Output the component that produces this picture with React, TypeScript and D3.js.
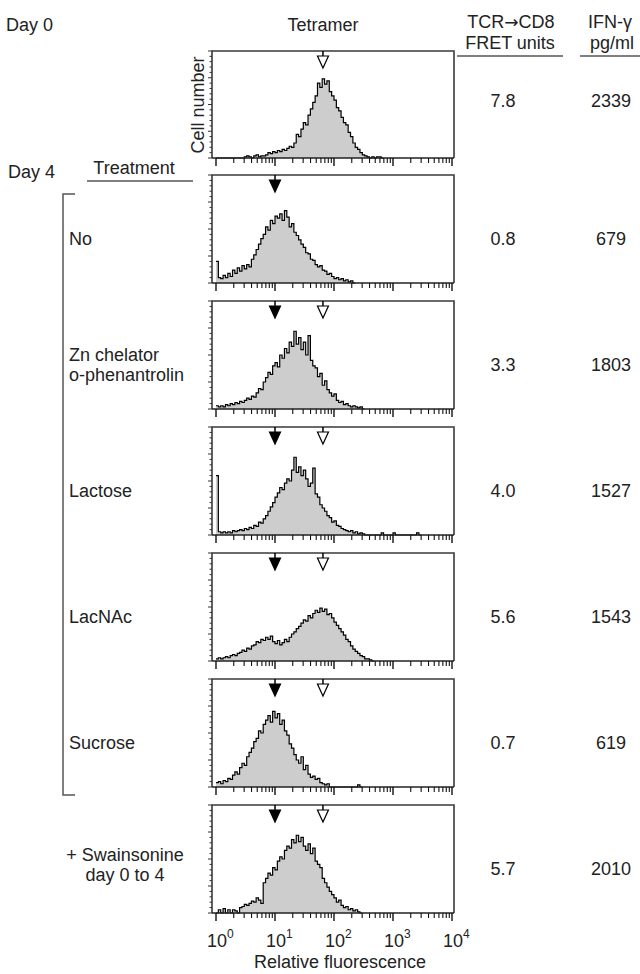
import React from "react";
import * as d3 from "d3";

// ---------- data ----------
const treatments = [
  "",
  "No",
  "Zn chelator|o-phenantrolin",
  "Lactose",
  "LacNAc",
  "Sucrose",
  "+ Swainsonine|day 0 to 4",
];
const fretValues = ["7.8", "0.8", "3.3", "4.0", "5.6", "0.7", "5.7"];
const ifnValues = ["2339", "679", "1803", "1527", "1543", "619", "2010"];
// arrow positions (fluorescence value) – null = none
const filledArrow = [null, 10, 10, 10, 10, 10, 10];
const openArrow = [65, null, 65, 65, 65, 65, 65];
const tickDecades = [1, 10, 100, 1000, 10000];
const tickExponents = ["0", "1", "2", "3", "4"];

// histograms: counts (% of panel height) in bins of 0.04 log10 units starting at 10^0
const histDay0 = [0, 0, 0, 0, 0, 0, 0, 0, 0, 0, 0, 0, 1, 2, 1, 0, 2, 3, 1, 2,
  2, 3, 5, 4, 6, 5, 7, 6, 8, 7, 9, 11, 10, 14, 22, 20, 27, 33, 31, 40,
  46, 52, 58, 70, 66, 74, 69, 72, 62, 58, 54, 47, 44, 38, 33, 31, 24, 20, 14, 10,
  8, 5, 3, 2, 1, 0, 1, 0, 1, 1, 0];
const histNo = [20, 5, 4, 7, 5, 9, 6, 12, 9, 14, 11, 16, 13, 17, 15, 22, 26, 31, 36, 41,
  45, 52, 49, 58, 55, 62, 60, 64, 58, 67, 61, 52, 55, 47, 44, 40, 36, 33, 28, 27,
  22, 21, 17, 15, 16, 12, 11, 8, 9, 6, 4, 5, 3, 4, 2, 3, 1, 2, 0];
const histZn = [3, 2, 3, 2, 4, 3, 5, 4, 6, 5, 7, 6, 8, 10, 9, 12, 11, 15, 19, 18,
  25, 29, 34, 32, 40, 43, 39, 50, 47, 56, 52, 62, 58, 72, 60, 66, 55, 62, 50, 68,
  45, 40, 38, 30, 33, 22, 26, 18, 15, 12, 14, 8, 6, 7, 4, 5, 3, 2, 3, 2,
  1, 2, 0];
const histLactose = [55, 3, 2, 3, 2, 3, 2, 4, 3, 4, 5, 4, 6, 5, 7, 6, 9, 8, 12, 11,
  15, 18, 22, 26, 30, 35, 39, 44, 42, 48, 52, 50, 60, 72, 58, 63, 55, 60, 52, 45,
  48, 62, 38, 35, 28, 25, 22, 18, 16, 12, 13, 9, 8, 6, 5, 4, 3, 4, 2, 3,
  1, 2, 1, 0, 0, 0, 0, 0, 0, 0, 2, 0, 0, 0, 0, 2, 0, 0, 0, 0,
  0, 0, 0, 0, 0, 2, 0];
const histLacNAc = [2, 3, 2, 3, 4, 3, 5, 6, 5, 7, 8, 10, 9, 12, 11, 14, 15, 18, 17, 20,
  19, 22, 20, 23, 18, 16, 19, 15, 17, 20, 18, 22, 25, 27, 30, 32, 35, 38, 37, 42,
  40, 44, 47, 45, 49, 46, 48, 43, 44, 40, 36, 33, 30, 27, 24, 20, 18, 14, 11, 9,
  7, 5, 4, 2, 2, 1, 0];
const histSucrose = [4, 5, 3, 6, 5, 8, 7, 11, 14, 12, 18, 22, 20, 28, 32, 36, 42, 45, 52, 50,
  58, 62, 66, 60, 70, 64, 68, 58, 62, 52, 48, 40, 36, 30, 25, 22, 28, 16, 20, 12,
  9, 10, 7, 8, 4, 3, 2, 3, 0, 0, 0, 0, 0, 0, 0, 0, 0, 0, 0, 0,
  2, 0];
const histSwainsonine = [0, 3, 0, 4, 0, 3, 0, 3, 2, 0, 5, 6, 8, 7, 9, 11, 10, 14, 12, 9,
  28, 32, 37, 35, 42, 40, 48, 52, 50, 58, 62, 60, 68, 65, 72, 66, 70, 62, 58, 64,
  55, 60, 48, 45, 42, 32, 28, 24, 20, 17, 14, 10, 12, 7, 5, 6, 3, 4, 2, 3,
  1, 0];
const histograms = [histDay0, histNo, histZn, histLactose, histLacNAc, histSucrose, histSwainsonine];
const BIN_LOG = 0.04;

// ---------- layout ----------
const W = 640;
const H = 974;
const FONT = "'Liberation Sans', Arial, Helvetica, sans-serif";
const boxLeft = 212;
const boxRight = 454;
const panelTop = (k: number) => (k === 0 ? 51 : 175 + 126 * (k - 1));
const panelAxis = (k: number) => (k === 0 ? 158 : panelTop(k) + 108);

const x = d3.scaleLog().domain([1, 10000]).range([216, 452]);

function Panel({ k }: { k: number }) {
  const top = panelTop(k);
  const axis = panelAxis(k);
  const y = d3.scaleLinear().domain([0, 100]).range([axis, top]);
  const vals = histograms[k];
  const pts = vals.map((v, i) => [Math.pow(10, i * BIN_LOG), v] as [number, number]);
  pts.push([Math.pow(10, vals.length * BIN_LOG), vals[vals.length - 1]]);
  const area = d3
    .area<[number, number]>()
    .x((d) => x(d[0]))
    .y0(axis)
    .y1((d) => y(d[1]))
    .curve(d3.curveStepAfter);
  const line = d3
    .line<[number, number]>()
    .x((d) => x(d[0]))
    .y((d) => y(d[1]))
    .curve(d3.curveStepAfter);

  const minor: number[] = [];
  for (let dec = 1; dec < 10000; dec *= 10) {
    for (let m = 2; m <= 9; m++) minor.push(dec * m);
  }
  const yTicks = d3.range(0, 101, 5);

  const fa = filledArrow[k];
  const oa = openArrow[k];
  const arrow = (v: number, filled: boolean) => {
    const cx = x(v);
    return (
      <g key={filled ? "f" : "o"}>
        <line x1={cx} x2={cx} y1={top} y2={top + 5} stroke="#000" strokeWidth={1.5} />
        <path
          d={`M${cx - 5.5},${top + 5} L${cx + 5.5},${top + 5} L${cx},${top + 17} Z`}
          fill={filled ? "#000" : "#fff"}
          stroke="#000"
          strokeWidth={1.2}
        />
      </g>
    );
  };

  return (
    <g>
      <path d={area(pts) || ""} fill="#cdcdcd" />
      <path d={line(pts) || ""} fill="none" stroke="#000" strokeWidth={1.2} />
      {/* frame */}
      <path
        d={`M${boxLeft},${axis} L${boxLeft},${top} L${boxRight},${top} L${boxRight},${axis}`}
        fill="none"
        stroke="#3a3a3a"
        strokeWidth={1.6}
      />
      <line x1={boxLeft} x2={boxRight} y1={axis} y2={axis} stroke="#222" strokeWidth={1.6} />
      {/* y ticks */}
      {yTicks.map((t) => (
        <line
          key={"y" + t}
          x1={boxLeft}
          x2={boxLeft - (t % 25 === 0 ? 4 : 2.5)}
          y1={y(t)}
          y2={y(t)}
          stroke="#333"
          strokeWidth={1}
        />
      ))}
      {/* x ticks */}
      {tickDecades.map((t) => (
        <line key={"M" + t} x1={x(t)} x2={x(t)} y1={axis} y2={axis + 8} stroke="#111" strokeWidth={1.4} />
      ))}
      {minor.map((t) => (
        <line key={"m" + t} x1={x(t)} x2={x(t)} y1={axis} y2={axis + 5} stroke="#111" strokeWidth={1.1} />
      ))}
      {fa !== null && arrow(fa, true)}
      {oa !== null && arrow(oa, false)}
    </g>
  );
}

export default function App() {
  return (
    <svg width={W} height={H} style={{ display: "block", position: "absolute", left: 0, top: 0, background: "#fff" }}
      fontFamily={FONT} fontSize={18} fill="#222">
      <rect x={0} y={0} width={W} height={H} fill="#fff" />
      {/* header */}
      <text x={6} y={31}>Day 0</text>
      <text x={323} y={31} textAnchor="middle">Tetramer</text>
      <text x={511} y={28} textAnchor="middle">
        TCR<tspan fontFamily="'DejaVu Sans'" fontSize={17}>→</tspan>CD8
      </text>
      <text x={510} y={49} textAnchor="middle">FRET units</text>
      <line x1={457} x2={563} y1={56} y2={56} stroke="#555" strokeWidth={1.5} />
      <text x={610} y={28} textAnchor="middle">IFN-γ</text>
      <text x={612} y={49} textAnchor="middle">pg/ml</text>
      <line x1={580} x2={640} y1={56} y2={56} stroke="#555" strokeWidth={1.5} />
      <text x={204} y={105} textAnchor="middle" transform="rotate(-90 204 105)">Cell number</text>

      <text x={8} y={178}>Day 4</text>
      <text x={134} y={174} textAnchor="middle">Treatment</text>
      <line x1={87} x2={193} y1={181} y2={181} stroke="#555" strokeWidth={1.5} />
      {/* bracket */}
      <path d="M75,194 L63,194 L63,795 L75,795" fill="none" stroke="#555" strokeWidth={1.5} />

      {histograms.map((_, k) => (
        <Panel key={k} k={k} />
      ))}

      {treatments.map((t, k) => {
        if (!t) return null;
        const c = (panelTop(k) + panelAxis(k)) / 2 + 10;
        const lines = t.split("|");
        if (k === 6) {
          return (
            <g key={"t" + k}>
              {lines.map((s, j) => (
                <text key={j} x={125} y={c - 14 + j * 20 + 6} textAnchor="middle">{s}</text>
              ))}
            </g>
          );
        }
        return (
          <g key={"t" + k}>
            {lines.map((s, j) => (
              <text key={j} x={69} y={c - (lines.length - 1) * 10 + j * 20 + 6}>{s}</text>
            ))}
          </g>
        );
      })}

      {fretValues.map((v, k) => {
        const c = (panelTop(k) + panelAxis(k)) / 2 + (k === 0 ? -4 : 10);
        return (
          <g key={"v" + k}>
            <text x={503} y={c + 6} textAnchor="middle">{v}</text>
            <text x={611} y={c + 6} textAnchor="middle">{ifnValues[k]}</text>
          </g>
        );
      })}

      {/* tick labels */}
      {tickDecades.map((t, i) => (
        <g key={"tl" + t}>
          <text x={x(t) + 1} y={947} textAnchor="middle">10</text>
          <text x={x(t) + 11} y={938} fontSize={12}>{tickExponents[i]}</text>
        </g>
      ))}
      <text x={340} y={968} textAnchor="middle">Relative fluorescence</text>
    </svg>
  );
}
